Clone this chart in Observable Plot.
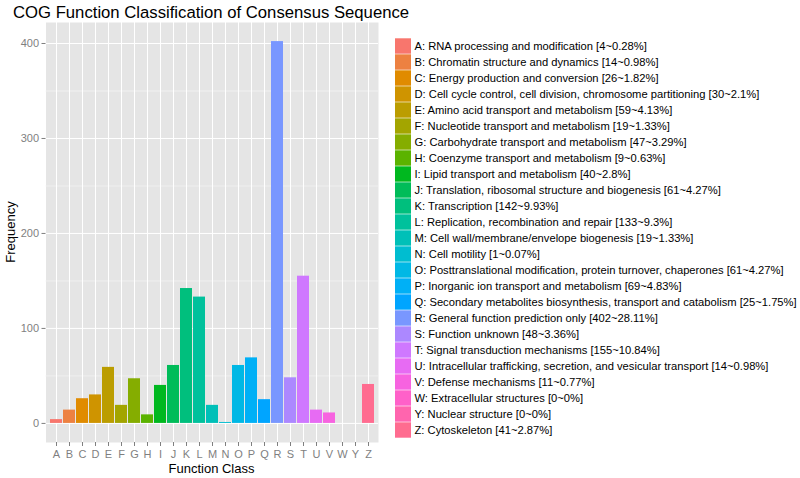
<!DOCTYPE html>
<html>
<head>
<meta charset="utf-8">
<script src="https://cdn.jsdelivr.net/npm/d3@7"></script>
<script src="https://cdn.jsdelivr.net/npm/@observablehq/plot@0.6"></script>
<style>
  html, body { margin: 0; padding: 0; background: #fff; }
  #wrap { position: relative; width: 800px; height: 478px; overflow: hidden; font-family: "Liberation Sans", Arial, sans-serif; }
  #main { position: absolute; left: 0; top: 0; }
  #legend { position: absolute; left: 385px; top: 0; }
</style>
</head>
<body>
<div id="wrap">
  <div id="main"></div>
  <div id="legend"></div>
</div>
<script>
const categories = ["A","B","C","D","E","F","G","H","I","J","K","L","M","N","O","P","Q","R","S","T","U","V","W","Y","Z"];
const counts = [4,14,26,30,59,19,47,9,40,61,142,133,19,1,61,69,25,402,48,155,14,11,0,0,41];
const percents = ["0.28","0.98","1.82","2.1","4.13","1.33","3.29","0.63","2.8","4.27","9.93","9.3","1.33","0.07","4.27","4.83","1.75","28.11","3.36","10.84","0.98","0.77","0","0","2.87"];
const descriptions = [
  "RNA processing and modification",
  "Chromatin structure and dynamics",
  "Energy production and conversion",
  "Cell cycle control, cell division, chromosome partitioning",
  "Amino acid transport and metabolism",
  "Nucleotide transport and metabolism",
  "Carbohydrate transport and metabolism",
  "Coenzyme transport and metabolism",
  "Lipid transport and metabolism",
  "Translation, ribosomal structure and biogenesis",
  "Transcription",
  "Replication, recombination and repair",
  "Cell wall/membrane/envelope biogenesis",
  "Cell motility",
  "Posttranslational modification, protein turnover, chaperones",
  "Inorganic ion transport and metabolism",
  "Secondary metabolites biosynthesis, transport and catabolism",
  "General function prediction only",
  "Function unknown",
  "Signal transduction mechanisms",
  "Intracellular trafficking, secretion, and vesicular transport",
  "Defense mechanisms",
  "Extracellular structures",
  "Nuclear structure",
  "Cytoskeleton"
];
const yTicks = [0, 100, 200, 300, 400];
const yMinor = [50, 150, 250, 350];
const title = "COG Function Classification of Consensus Sequence";
const xTitle = "Function Class";
const yTitle = "Frequency";

// ggplot2-style hue palette (polar LUV -> sRGB)
function hclLuv(h, c, l) {
  const WX = 95.047, WY = 100.0, WZ = 108.883;
  const den = WX + 15 * WY + 3 * WZ;
  const un = 4 * WX / den, vn = 9 * WY / den;
  const hr = h * Math.PI / 180;
  const U = c * Math.cos(hr), V = c * Math.sin(hr);
  const Y = WY * (l > 7.999592 ? Math.pow((l + 16) / 116, 3) : l / 903.3);
  const u = U / (13 * l) + un, v = V / (13 * l) + vn;
  const X = 9 * Y * u / (4 * v);
  const Z = -X / 3 - 5 * Y + 3 * Y / v;
  const gam = t => t > 0.00304 ? 1.055 * Math.pow(t, 1 / 2.4) - 0.055 : 12.92 * t;
  const cl = t => Math.max(0, Math.min(1, t));
  const r = cl(gam((3.240479 * X - 1.537150 * Y - 0.498535 * Z) / WY));
  const g = cl(gam((-0.969256 * X + 1.875992 * Y + 0.041556 * Z) / WY));
  const b = cl(gam((0.055648 * X - 0.204043 * Y + 1.057311 * Z) / WY));
  return d3.rgb(r * 255, g * 255, b * 255).formatHex();
}
const n = categories.length;
const palette = categories.map((_, i) => hclLuv(15 + i * 360 / n, 100, 65));

const data = categories.map((c, i) => ({cat: c, count: counts[i]}));
const legendData = categories.map((c, i) => ({cat: c, label: `${c}: ${descriptions[i]} [${counts[i]}~${percents[i]}%]`}));

const font = '"Liberation Sans", Arial, sans-serif';
const maxV = d3.max(counts);
const pad = maxV * 0.05;

const main = Plot.plot({
  width: 385,
  height: 478,
  marginTop: 22,
  marginBottom: 36,
  marginLeft: 45.5,
  marginRight: 7,
  style: {background: "transparent", fontFamily: font, fontSize: "11px"},
  x: {domain: categories, paddingInner: 0.1, paddingOuter: 0.15, label: null},
  y: {domain: [-pad, maxV + pad], label: null},
  color: {domain: categories, range: palette},
  marks: [
    Plot.frame({fill: "#E5E5E5", stroke: null}),
    Plot.ruleY(yMinor, {stroke: "#F2F2F2", strokeWidth: 0.8}),
    Plot.ruleY(yTicks, {stroke: "#ffffff", strokeWidth: 1}),
    Plot.ruleX(categories, {x: d => d, stroke: "#ffffff", strokeWidth: 1}),
    Plot.barY(data, {x: "cat", y: "count", fill: "cat"}),
    Plot.axisX({ticks: categories, tickSize: 4, tickPadding: 4, color: "#7F7F7F", fontSize: 11, label: null}),
    Plot.axisY({ticks: yTicks, tickSize: 4, tickPadding: 3, color: "#7F7F7F", fontSize: 11, label: null})
  ]
});

const svg = d3.select(main);
svg.append("text")
  .attr("x", 13).attr("y", 18.3)
  .attr("text-anchor", "start")
  .attr("font-family", font).attr("font-size", 16.7).attr("fill", "#000")
  .text(title);
svg.append("text")
  .attr("x", 211.5).attr("y", 473)
  .attr("text-anchor", "middle")
  .attr("font-family", font).attr("font-size", 13).attr("fill", "#000")
  .text(xTitle);
svg.append("text")
  .attr("transform", "translate(15,232) rotate(-90)")
  .attr("text-anchor", "middle")
  .attr("font-family", font).attr("font-size", 13).attr("fill", "#000")
  .text(yTitle);
svg.style("overflow", "visible");
document.getElementById("main").appendChild(main);

const legend = Plot.plot({
  width: 415,
  height: 478,
  marginTop: 32.5,
  marginBottom: 33.8,
  marginLeft: 0,
  marginRight: 0,
  style: {background: "transparent", fontFamily: font, fontSize: "11.2px"},
  x: {domain: [0, 415], range: [0, 415], axis: null},
  y: {domain: categories, padding: 0, axis: null},
  color: {domain: categories, range: palette},
  marks: [
    Plot.rect(legendData, {y: "cat", x1: 10, x2: 26, fill: "cat", insetTop: 0.3, insetBottom: 0.3}),
    Plot.text(legendData, {y: "cat", x: 29, text: "label", textAnchor: "start", fill: "#000", fontSize: 11.2})
  ]
});
document.getElementById("legend").appendChild(legend);
</script>
</body>
</html>
